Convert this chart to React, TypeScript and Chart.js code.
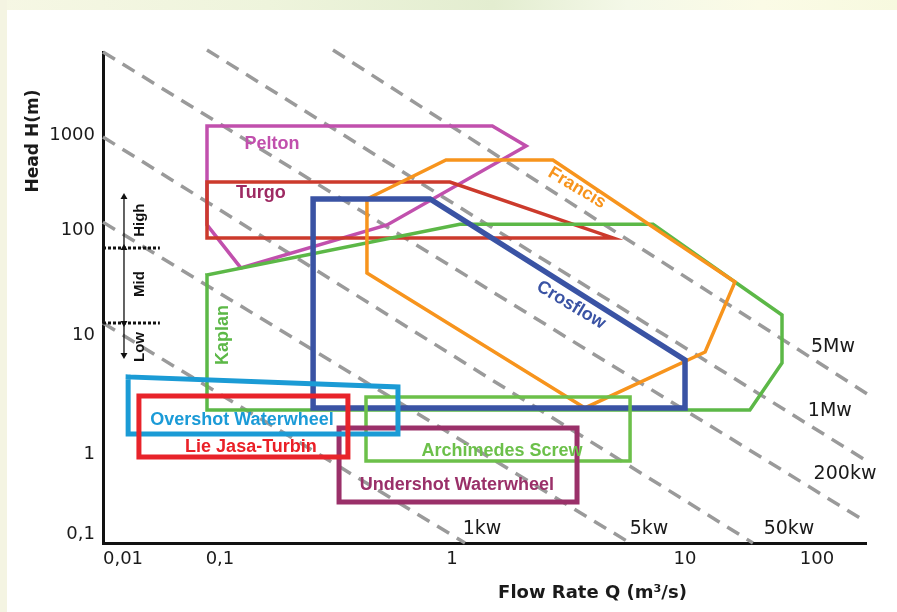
import React, { useEffect, useRef } from 'react';
import { Chart, registerables, LogarithmicScale } from 'chart.js';

// ---------- axis ticks ----------
const xTickValues = [0.01, 0.1, 1, 10, 100];
const xTickLabels = ['0,01', '0,1', '1', '10', '100'];
const yTickValues = [0.1, 1, 10, 100, 1000];
const yTickLabels = ['0,1', '1', '10', '100', '1000'];
const xRange = [0.00622, 235];
const yRange = [0.0772, 7475];

// ---------- application envelopes (Q in m3/s, H in m) ----------
const peltonQ = [0.0735, 1.49, 2.08, 0.525, 0.123, 0.0735];
const peltonH = [1240, 1240, 766, 113, 43.5, 113];
const turgoQ = [0.0735, 0.98, 4.91, 0.0735];
const turgoH = [320, 320, 84, 84];
const crossflowQ = [0.252, 0.804, 10, 10, 0.252];
const crossflowH = [212, 212, 6.16, 2.44, 2.44];
const kaplanQ = [0.0735, 1.08, 7.29, 23.9, 54.3, 54.3, 31.0, 0.0735];
const kaplanH = [37.3, 115, 115, 32.0, 15.5, 5.82, 2.34, 2.34];
const francisQ = [0.43, 0.942, 2.71, 23.9, 14.2, 3.72, 0.43];
const francisH = [212, 546, 546, 32.0, 7.2, 2.44, 38.9];
const overshotQ = [0.0113, 0.585, 0.585, 0.0113];
const overshotH = [4.44, 3.66, 1.47, 1.47];
const lieJasaQ = [0.0146, 0.356, 0.356, 0.0146];
const lieJasaH = [3.07, 3.07, 0.917, 0.917];
const archimedesQ = [0.426, 5.81, 5.81, 0.426];
const archimedesH = [3.01, 3.01, 0.818, 0.818];
const undershotQ = [0.326, 3.44, 3.44, 0.326];
const undershotH = [1.654, 1.654, 0.251, 0.251];

const shapeNames = ['Lie Jasa-Turbin', 'Overshot Waterwheel', 'Undershot Waterwheel', 'Archimedes Screw', 'Crosflow', 'Francis', 'Kaplan', 'Turgo', 'Pelton'];
const shapeQ = [lieJasaQ, overshotQ, undershotQ, archimedesQ, crossflowQ, francisQ, kaplanQ, turgoQ, peltonQ];
const shapeH = [lieJasaH, overshotH, undershotH, archimedesH, crossflowH, francisH, kaplanH, turgoH, peltonH];

// shape labels (anchor in data units)
const shapeLabelQ = [0.136, 0.1244, 1.05, 1.64, 3.24, 3.44, 0.103, 0.150, 0.1675];
const shapeLabelH = [1.145, 1.93, 0.41, 1.06, 19.3, 277, 10, 245, 804];

// ---------- iso-power lines ----------
const powerNames = ['200kw', '1Mw', '5Mw', '50kw', '5kw', '1kw'];
const powerStartQ = [0.00622, 0.0735, 0.307, 0.00622, 0.00622, 0.00622];
const powerStartH = [7475, 7850, 7850, 953, 121, 13.0];
const powerEndQ = [212, 252, 261, 32.7, 5.81, 1.137];
const powerEndH = [0.158, 0.772, 3.01, 0.0772, 0.0772, 0.0772];
const powerLabelQ = [163, 125, 132, 61.4, 7.01, 1.345];
const powerLabelH = [0.562, 2.30, 7.93, 0.1155, 0.1155, 0.1155];

// ---------- head classes ----------
const headClassNames = ['High', 'Mid', 'Low'];
const headClassLabelQ = [0.015, 0.015, 0.015];
const headClassLabelH = [127, 30.6, 7.93];
const headArrowQ = [0.01024, 0.01024, 0.01024, 0.01024];
const headArrowH = [222, 67.4, 13.0, 6.8];
const headBoundQ = [0.00622, 0.024];
const headBoundH = [67.4, 13.0];

// ---------- styles ----------
const shapeStyles: Record<string, { color: string; text: string; width: number; angle: number }> = {
  'Lie Jasa-Turbin': { color: '#e8232a', text: '#ea2027', width: 5, angle: 0 },
  'Overshot Waterwheel': { color: '#1b9bd5', text: '#1b9bd7', width: 5, angle: 0 },
  'Undershot Waterwheel': { color: '#9a3069', text: '#9a3069', width: 5, angle: 0 },
  'Archimedes Screw': { color: '#6cc04a', text: '#6cc04a', width: 3.5, angle: 0 },
  Crosflow: { color: '#3a53a4', text: '#3a53a4', width: 5.5, angle: 31 },
  Francis: { color: '#f7941d', text: '#f7941d', width: 3.5, angle: 31 },
  Kaplan: { color: '#5cb847', text: '#5cb847', width: 3.5, angle: -90 },
  Turgo: { color: '#cc3a2c', text: '#9e2a62', width: 3.5, angle: 0 },
  Pelton: { color: '#c150ad', text: '#c150ad', width: 3.5, angle: 0 },
};
const arrowRotations = [0, 0, 180, 180];

// piecewise decade placement of the (hand-drawn) axes
const axisAnchors: Record<string, { logs: number[]; fractions: number[] }> = {
  x: { logs: [-2, -1, 0, 1, 2], fractions: [0.0262, 0.1533, 0.4574, 0.7628, 0.9358] },
  y: { logs: [-1, 0, 1, 2, 3], fractions: [0.0183, 0.1813, 0.4236, 0.6375, 0.831] },
};

class PiecewiseLogScale extends (LogarithmicScale as any) {
  static id = 'piecewiseLog';
  static defaults = {};
  logToDecimal(l: number) {
    const a = axisAnchors[(this as any).id];
    const n = a.logs.length;
    let i = 0;
    while (i < n - 2 && l > a.logs[i + 1]) i++;
    const t = (l - a.logs[i]) / (a.logs[i + 1] - a.logs[i]);
    return a.fractions[i] + t * (a.fractions[i + 1] - a.fractions[i]);
  }
  decimalToLog(d: number) {
    const a = axisAnchors[(this as any).id];
    const n = a.fractions.length;
    let i = 0;
    while (i < n - 2 && d > a.fractions[i + 1]) i++;
    const t = (d - a.fractions[i]) / (a.fractions[i + 1] - a.fractions[i]);
    return a.logs[i] + t * (a.logs[i + 1] - a.logs[i]);
  }
  getPixelForValue(value: number) {
    if (value === undefined || value === null || isNaN(value) || value <= 0) return NaN;
    return (this as any).getPixelForDecimal(this.logToDecimal(Math.log10(value)));
  }
  getValueForPixel(pixel: number) {
    return Math.pow(10, this.decimalToLog((this as any).getDecimalForPixel(pixel)));
  }
}

Chart.register(...registerables, PiecewiseLogScale as any);

const pts = (q: number[], h: number[]) => q.map((v, i) => ({ x: v, y: h[i] }));

const overlayPlugin = {
  id: 'overlayText',
  afterDatasetsDraw(chart: any) {
    const { ctx, chartArea, scales } = chart;
    const xs = scales.x;
    const ys = scales.y;
    const put = (text: string, x: number, y: number, font: string, color: string, angle: number, spacing = '0px') => {
      ctx.save();
      ctx.translate(x, y);
      ctx.rotate((angle * Math.PI) / 180);
      ctx.font = font;
      ctx.fillStyle = color;
      ctx.textAlign = 'center';
      ctx.textBaseline = 'middle';
      try { (ctx as any).letterSpacing = spacing; } catch (e) { /* ignore */ }
      ctx.fillText(text, 0, 0);
      ctx.restore();
    };
    const labelFont = 'bold 18px "Liberation Sans", Arial, sans-serif';
    shapeNames.forEach((name, i) => {
      const st = shapeStyles[name];
      put(name, xs.getPixelForValue(shapeLabelQ[i]), ys.getPixelForValue(shapeLabelH[i]), labelFont, st.text, st.angle);
    });
    powerNames.forEach((name, i) => {
      put(name, xs.getPixelForValue(powerLabelQ[i]), ys.getPixelForValue(powerLabelH[i]), '19px "DejaVu Sans", sans-serif', '#1a1a1a', 0);
    });
    headClassNames.forEach((name, i) => {
      put(name, xs.getPixelForValue(headClassLabelQ[i]), ys.getPixelForValue(headClassLabelH[i]), 'bold 15px "Liberation Sans", Arial, sans-serif', '#111', -90);
    });
    put('Head H(m)', chartArea.left - 69, chartArea.top + 89, 'bold 17px "DejaVu Sans", sans-serif', '#1a1a1a', -90);
    put('Flow Rate Q (m³/s)', (chartArea.left + chartArea.right) / 2 + 108, chartArea.bottom + 50, 'bold 18px "DejaVu Sans", sans-serif', '#1a1a1a', 0);
  },
};

export default function App() {
  const ref = useRef<HTMLCanvasElement | null>(null);
  useEffect(() => {
    if (!ref.current) return;
    const shapeSets = shapeNames.map((name, i) => {
      const data = pts(shapeQ[i], shapeH[i]);
      data.push({ ...data[0] });
      const st = shapeStyles[name];
      return {
        label: name,
        data,
        borderColor: st.color,
        borderWidth: st.width,
        pointRadius: 0,
        fill: false,
        tension: 0,
        borderCapStyle: 'square',
        borderJoinStyle: 'miter',
      };
    });
    const arrowSet = {
      label: 'head classes',
      data: pts(headArrowQ, headArrowH),
      borderColor: '#111',
      borderWidth: 1.3,
      pointStyle: 'triangle',
      pointRadius: 4,
      pointRotation: arrowRotations,
      pointBackgroundColor: '#111',
      pointBorderColor: '#111',
      pointBorderWidth: 0,
      fill: false,
      tension: 0,
      clip: false,
    };
    const boundSets = headBoundH.map((h) => ({
      label: 'bound',
      data: pts(headBoundQ, [h, h]),
      borderColor: '#111',
      borderWidth: 3,
      borderDash: [3, 2],
      pointRadius: 0,
      fill: false,
      clip: false,
    }));
    const powerSets = powerNames.map((name, i) => ({
      label: name,
      data: [
        { x: powerStartQ[i], y: powerStartH[i] },
        { x: powerEndQ[i], y: powerEndH[i] },
      ],
      borderColor: '#9a9a9a',
      borderWidth: 3.5,
      borderDash: [14, 9],
      pointRadius: 0,
      fill: false,
      clip: false,
    }));

    const chart = new Chart(ref.current, {
      type: 'line',
      data: { datasets: [...shapeSets, arrowSet, ...boundSets, ...powerSets] as any },
      options: {
        animation: false,
        responsive: false,
        events: [],
        layout: { padding: { top: 52, right: 31, bottom: 0, left: 0 } },
        plugins: { legend: { display: false }, tooltip: { enabled: false } },
        scales: {
          x: {
            type: 'piecewiseLog' as any,
            min: xRange[0],
            max: xRange[1],
            grid: { display: false, drawTicks: false },
            border: { display: true, color: '#111', width: 3 },
            ticks: {
              autoSkip: false,
              maxRotation: 0,
              minRotation: 0,
              padding: 6,
              color: '#1a1a1a',
              font: { family: '"DejaVu Sans", sans-serif', size: 18 },
              callback: (_v: any, i: number) => xTickLabels[i],
            },
            afterBuildTicks: (s: any) => {
              s.ticks = xTickValues.map((v) => ({ value: v }));
            },
            afterFit: (s: any) => {
              s.height = 69;
            },
          } as any,
          y: {
            type: 'piecewiseLog' as any,
            position: 'left',
            min: yRange[0],
            max: yRange[1],
            grid: { display: false, drawTicks: false },
            border: { display: true, color: '#111', width: 3 },
            ticks: {
              autoSkip: false,
              padding: 8,
              color: '#1a1a1a',
              font: { family: '"DejaVu Sans", sans-serif', size: 18 },
              callback: (_v: any, i: number) => yTickLabels[i],
            },
            afterBuildTicks: (s: any) => {
              s.ticks = yTickValues.map((v) => ({ value: v }));
            },
            afterFit: (s: any) => {
              s.width = 103;
            },
          } as any,
        },
      },
      plugins: [overlayPlugin],
    } as any);
    return () => chart.destroy();
  }, []);

  return (
    <div style={{ position: 'fixed', left: 0, top: 0, width: 897, height: 612, background: '#ffffff', overflow: 'hidden' }}>
      <div
        style={{
          position: 'absolute', left: 0, top: 0, width: 897, height: 10,
          background: 'linear-gradient(to right, #f6f7e4 0%, #eef4dc 30%, #e3edd0 55%, #f4f8e8 70%, #fbfbe6 85%, #f7f9df 100%)',
        }}
      />
      <div style={{ position: 'absolute', left: 0, top: 0, width: 7, height: 612, background: '#f4f4e2' }} />
      <canvas ref={ref} width={897} height={612} style={{ position: 'absolute', left: 0, top: 0 }} />
    </div>
  );
}
